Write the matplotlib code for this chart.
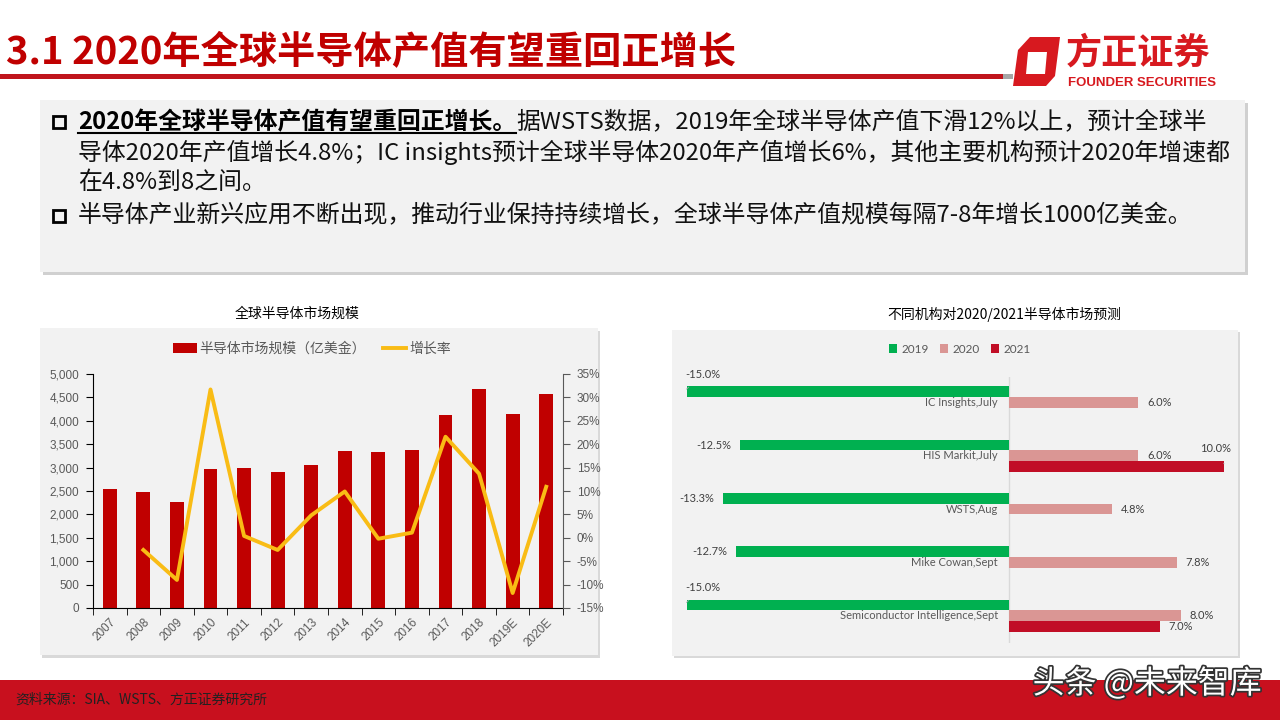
import numpy as np
import matplotlib.pyplot as plt
from matplotlib.patches import Rectangle, Polygon
import matplotlib.patheffects as pe

plt.rcParams['font.family'] = ['Liberation Sans', 'Noto Sans CJK SC']

W, H = 1280, 720

## dati: 全球半导体市场规模 (亿美金) e tasso di crescita (%)
years = ['2007', '2008', '2009', '2010', '2011', '2012', '2013', '2014',
         '2015', '2016', '2017', '2018', '2019E', '2020E']
market = [2550, 2471, 2264, 2971, 2993, 2907, 3050, 3350, 3343, 3379, 4114, 4679, 4136, 4579]
growth = [np.nan, -2.6, -9.0, 31.7, 0.4, -2.6, 4.8, 9.9, -0.2, 1.1, 21.6, 13.7, -11.8, 10.9]

## dati: previsioni delle istituzioni (%)
agencies = ['IC Insights,July', 'HIS Markit,July', 'WSTS,Aug', 'Mike Cowan,Sept',
            'Semiconductor Intelligence,Sept']
f2019 = [-15.0, -12.5, -13.3, -12.7, -15.0]
f2020 = [6.0, 6.0, 4.8, 7.8, 8.0]
f2021 = [np.nan, 10.0, np.nan, np.nan, 7.0]

cjk = ['Noto Sans CJK SC', 'DejaVu Sans']


def box(x0, y0, x1, y1):
    # rettangolo in pixel (origine in alto a sinistra) -> coordinate figura
    return [x0 / W, 1 - y1 / H, (x1 - x0) / W, (y1 - y0) / H]


fig = plt.figure(figsize=(12.8, 7.2), dpi=100)
bg = fig.add_axes([0, 0, 1, 1], zorder=0)
bg.set_xlim(0, W)
bg.set_ylim(H, 0)
bg.axis('off')

## intestazione
bg.text(6, 53, '3.1 2020年全球半导体产值有望重回正增长', fontsize=27.5, weight='bold',
        color='#C00000', va='center', family=cjk)
bg.add_patch(Rectangle((0, 74), 1005, 5, color='#C0141C', lw=0))
bg.add_patch(Rectangle((1003, 74), 10, 5, color='#A6A6A6', lw=0))

# logo
bg.add_patch(Polygon([(1030, 37), (1060, 37), (1055, 76), (1046, 86), (1013, 86), (1018, 50)],
                     closed=True, color='#D7191F', lw=0))
bg.add_patch(Polygon([(1028, 52), (1047, 52), (1045, 74), (1026, 74)], closed=True,
                     color='white', lw=0))
bg.text(1066, 53, '方正证券', fontsize=26, weight='bold', color='#D7191F', va='center', family=cjk)
bg.text(1068, 83, 'FOUNDER SECURITIES', fontsize=9.5, weight='bold', color='#D7191F', va='center')

## riquadro di testo
bg.add_patch(Rectangle((43, 103), 1205, 172, color='#D0D0D0', lw=0))
bg.add_patch(Rectangle((40, 100), 1205, 172, color='#F2F2F2', lw=0))
bg.add_patch(Rectangle((53, 116), 12, 12, fill=False, ec='black', lw=2))
bg.add_patch(Rectangle((53, 210), 12, 12, fill=False, ec='black', lw=2))

tsize = 17.2
t1 = bg.text(78, 122, '2020年全球半导体产值有望重回正增长。', fontsize=tsize, weight='bold',
             color='black', va='center', family=cjk)
bg.annotate('据WSTS数据，2019年全球半导体产值下滑12%以上，预计全球半', xy=(1, 0.5), xycoords=t1,
            va='center', ha='left', fontsize=tsize, color='#111111', family=cjk)
bg.text(78, 152, '导体2020年产值增长4.8%；IC insights预计全球半导体2020年产值增长6%，其他主要机构预计2020年增速都',
        fontsize=tsize, color='#111111', va='center', family=cjk)
bg.text(78, 182, '在4.8%到8之间。', fontsize=tsize, color='#111111', va='center', family=cjk)
bg.text(78, 216, '半导体产业新兴应用不断出现，推动行业保持持续增长，全球半导体产值规模每隔7-8年增长1000亿美金。',
        fontsize=tsize, color='#111111', va='center', family=cjk)

# sottolineatura della parte in grassetto
renderer = fig.canvas.get_renderer()
bb = t1.get_window_extent(renderer).transformed(bg.transData.inverted())
bg.plot([bb.x0, bb.x1], [133, 133], color='black', lw=1.5)

## pannelli dei grafici
bg.add_patch(Rectangle((42, 331), 558, 327, color='#D9D9D9', lw=0))
bg.add_patch(Rectangle((40, 328), 558, 327, color='#F2F2F2', lw=0))
bg.add_patch(Rectangle((674, 332), 566, 326, color='#D9D9D9', lw=0))
bg.add_patch(Rectangle((672, 330), 566, 326, color='#F2F2F2', lw=0))

bg.text(297, 314, '全球半导体市场规模', ha='center', va='center', fontsize=10, family=cjk)
bg.text(1004, 314, '不同机构对2020/2021半导体市场预测', ha='center', va='center', fontsize=10, family=cjk)

## grafico sinistro: barre + linea
x = np.arange(len(years))
ax1 = fig.add_axes(box(93, 374, 563, 608), zorder=2)
ax1.patch.set_alpha(0)
bars = ax1.bar(x, market, width=0.41, color='#C00000', zorder=2, label='半导体市场规模（亿美金）')
ax1.set_xlim(-0.5, len(years) - 0.5)
ax1.set_ylim(0, 5000)
ax1.set_yticks(range(0, 5001, 500), [f'{v:,}' for v in range(0, 5001, 500)])
ax1.set_xticks(x, years, rotation=45, ha='right', rotation_mode='anchor')
ax1.set_xticks(np.arange(-0.5, len(years)), minor=True)
ax1.tick_params(axis='x', which='major', length=0, pad=6, labelsize=8.5, labelcolor='#595959')
ax1.tick_params(axis='x', which='minor', length=5, direction='out', color='black')
ax1.tick_params(axis='y', length=5, direction='out', pad=5, labelsize=8.5, labelcolor='#595959')
for s in ['top', 'right']:
    ax1.spines[s].set_visible(False)
ax1.spines['left'].set_color('black')
ax1.spines['bottom'].set_color('black')

ax2 = ax1.twinx()
line, = ax2.plot(x, growth, color='#F9BC15', lw=2.8, zorder=3, label='增长率')
ax2.set_ylim(-15, 35)
ax2.set_yticks(range(-15, 36, 5), [f'{v}%' for v in range(-15, 36, 5)])
ax2.tick_params(axis='y', length=5, direction='out', pad=5, labelsize=8.5, labelcolor='#595959',
                color='#595959')
for s in ['top', 'left', 'bottom']:
    ax2.spines[s].set_visible(False)
ax2.spines['right'].set_color('#595959')

fig.legend(handles=[bars, line], loc='center', bbox_to_anchor=(312 / W, 1 - 349 / H), ncol=2,
           frameon=False, labelcolor='#595959', handlelength=1.7,
           handleheight=0.7, handletextpad=0.2, columnspacing=1.2, prop={'family': cjk, 'size': 10})

## grafico destro: barre orizzontali
pos = np.arange(len(agencies))
off = 0.2
ax3 = fig.add_axes(box(678, 377, 1236, 643), zorder=2)
ax3.patch.set_alpha(0)
px_per = 21.5
ax3.set_xlim((678 - 1009) / px_per, (1236 - 1009) / px_per)
ax3.set_ylim(4.51, -0.478)
series = [(f2019, -off, '#00B050', '2019'), (f2020, 0, '#DA9694', '2020'), (f2021, off, '#C10E26', '2021')]
handles = []
for vals, d, col, lab in series:
    b = ax3.barh(pos + d, vals, height=0.2, color=col, label=lab, zorder=2)
    handles.append(b)
    for yy, v in zip(pos + d, vals):
        if np.isnan(v):
            continue
        txt = f'{v:.1f}%'
        if v < -14.5:
            ax3.annotate(txt, xy=(v, yy - 0.05), xytext=(16, 15), textcoords='offset pixels',
                         ha='center', va='center', fontsize=8, color='#404040', family='Lato',
                         arrowprops=dict(arrowstyle='-', color='#A6A6A6', lw=0.6, shrinkA=5, shrinkB=0))
        elif v > 9.5:
            ax3.annotate(txt, xy=(v, yy - 0.05), xytext=(-8, 15), textcoords='offset pixels',
                         ha='center', va='center', fontsize=8, color='#404040', family='Lato',
                         arrowprops=dict(arrowstyle='-', color='#A6A6A6', lw=0.6, shrinkA=5, shrinkB=0))
        elif v < 0:
            ax3.annotate(txt, xy=(v, yy), xytext=(-9, 0), textcoords='offset pixels',
                         ha='right', va='center', fontsize=8, color='#404040', family='Lato')
        else:
            ax3.annotate(txt, xy=(v, yy), xytext=(9, 0), textcoords='offset pixels',
                         ha='left', va='center', fontsize=8, color='#404040', family='Lato')
for yy, name in zip(pos, agencies):
    ax3.text(-11 / px_per, yy, name, ha='right', va='center', fontsize=8, color='#595959',
             family='Lato', zorder=3)
ax3.axvline(0, color='#D9D9D9', lw=1, zorder=1)
ax3.set_xticks([])
ax3.set_yticks([])
for s in ax3.spines.values():
    s.set_visible(False)

fig.legend(handles=handles, loc='center', bbox_to_anchor=(960 / W, 1 - 349 / H), ncol=3,
           frameon=False, handlelength=0.7, handleheight=0.7, handletextpad=0.4,
           columnspacing=0.9, labelcolor='#595959', prop={'family': 'Lato', 'size': 8.5})

## piè di pagina
bg.add_patch(Rectangle((0, 680), W, 40, color='#C8101E', lw=0))
bg.text(15, 700, '资料来源：SIA、WSTS、方正证券研究所', fontsize=10, style='italic',
        color='#222222', va='center', family=cjk)
bg.text(1262, 684, '头条 @未来智库', ha='right', va='center', fontsize=23, color='white', family=cjk,
        path_effects=[pe.Stroke(linewidth=2.5, foreground='#333333'), pe.Normal()])

fig.savefig('out.png', dpi=100)
